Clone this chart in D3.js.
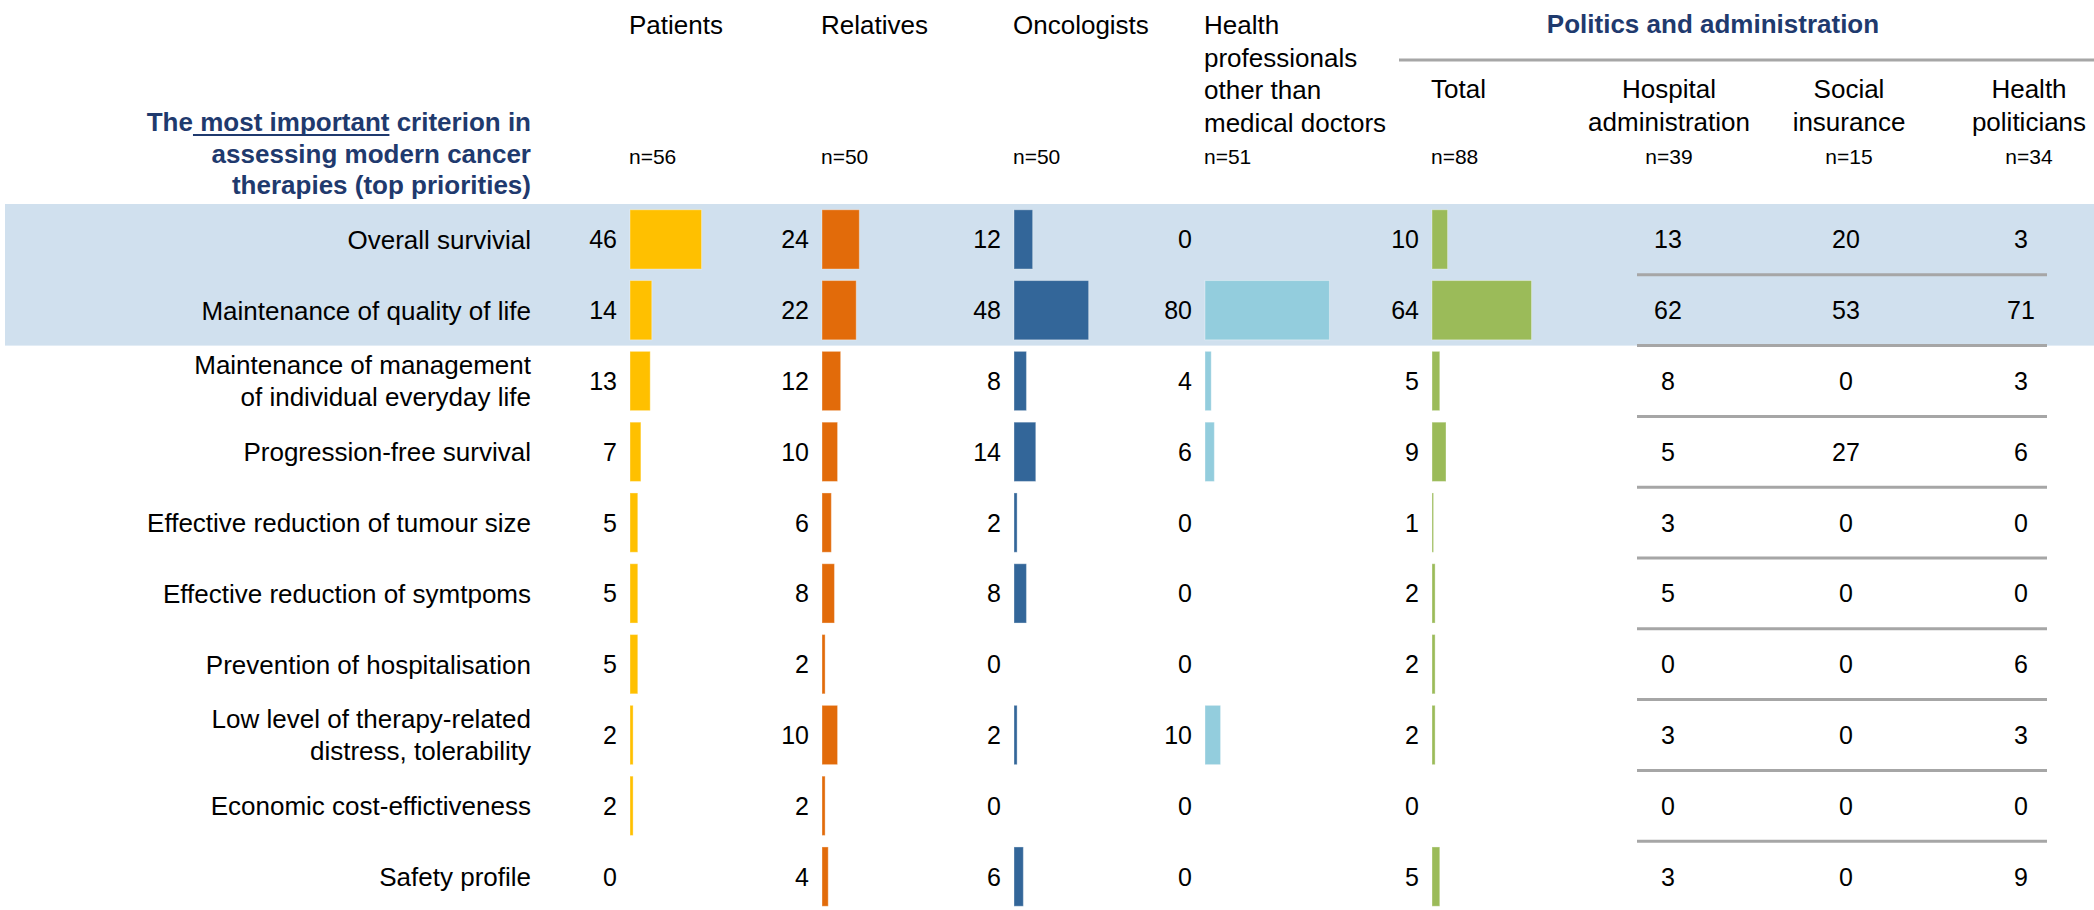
<!DOCTYPE html>
<html>
<head>
<meta charset="utf-8">
<script src="https://cdn.jsdelivr.net/npm/d3@7"></script>
<style>
  html, body { margin: 0; padding: 0; background: #fff; }
  svg { display: block; font-family: Arial, "Liberation Sans", sans-serif; }
</style>
</head>
<body>
<svg id="chart" width="2094" height="910"></svg>
<script>
// ---------- DATA ----------
const categories = [
  "Overall survivial",
  "Maintenance of quality of life",
  "Maintenance of management\nof individual everyday life",
  "Progression-free survival",
  "Effective reduction of tumour size",
  "Effective reduction of symtpoms",
  "Prevention of hospitalisation",
  "Low level of therapy-related\ndistress, tolerability",
  "Economic cost-effictiveness",
  "Safety profile"
];
const barGroups = ["Patients", "Relatives", "Oncologists", "Health\nprofessionals\nother than\nmedical doctors", "Total"];
const barSampleSizes = ["n=56", "n=50", "n=50", "n=51", "n=88"];
const patients            = [46, 14, 13, 7, 5, 5, 5, 2, 2, 0];
const relatives           = [24, 22, 12, 10, 6, 8, 2, 10, 2, 4];
const oncologists         = [12, 48, 8, 14, 2, 8, 0, 2, 0, 6];
const healthProfessionals = [0, 80, 4, 6, 0, 0, 0, 10, 0, 0];
const politicsTotal       = [10, 64, 5, 9, 1, 2, 2, 2, 0, 5];

const subGroups = ["Hospital\nadministration", "Social\ninsurance", "Health\npoliticians"];
const subSampleSizes = ["n=39", "n=15", "n=34"];
const hospitalAdministration = [13, 62, 8, 5, 3, 5, 0, 3, 0, 3];
const socialInsurance        = [20, 53, 0, 27, 0, 0, 0, 0, 0, 0];
const healthPoliticians      = [3, 71, 3, 6, 0, 0, 6, 3, 0, 9];

const barSeries = [patients, relatives, oncologists, healthProfessionals, politicsTotal];
const subSeries = [hospitalAdministration, socialInsurance, healthPoliticians];
const highlighted = ["Overall survivial", "Maintenance of quality of life"];

// ---------- STYLE / LAYOUT ----------
const barColors = ["#FFC000", "#E26B0A", "#336699", "#93CDDD", "#9BBB59"];
const navy = "#1F3A6E";
const gray = "#A6A6A6";
const bandColor = "#D0E0EE";
const colX = [630, 822, 1014, 1205, 1432];
const subX = [1668, 1846, 2021];
const subHeadX = [1669, 1849, 2029];
const labelRight = 531;

const svg = d3.select("#chart");

const y = d3.scaleBand()
  .domain(categories)
  .range([204, 912])
  .paddingInner(0.163)
  .paddingOuter(0.0815);
const step = y.step();
const rowTop = c => y(c) - y.paddingInner() * step / 2;

const x = d3.scaleLinear().domain([0, 80]).range([0, 124.4]);

// highlight band
const hl = highlighted.map(rowTop);
svg.append("rect")
  .attr("x", 5).attr("y", d3.min(hl))
  .attr("width", 2094 - 5).attr("height", step * highlighted.length)
  .attr("fill", bandColor);

// ---------- TITLE ----------
const titleG = svg.append("g").attr("fill", navy).attr("font-weight", "bold").attr("font-size", 26);
const t1 = titleG.append("text").attr("x", labelRight).attr("y", 131).attr("text-anchor", "end");
const tsA = t1.append("tspan").text("The");
const tsB = t1.append("tspan").text(" most important");
t1.append("tspan").text(" criterion in");
titleG.append("text").attr("x", labelRight).attr("y", 163).attr("text-anchor", "end").text("assessing modern cancer");
titleG.append("text").attr("x", labelRight).attr("y", 194).attr("text-anchor", "end").text("therapies (top priorities)");
const totalLen = t1.node().getComputedTextLength();
const aLen = tsA.node().getComputedTextLength();
const bLen = tsB.node().getComputedTextLength();
const startX = labelRight - totalLen;
svg.append("line")
  .attr("x1", startX + aLen).attr("x2", startX + aLen + bLen)
  .attr("y1", 135).attr("y2", 135)
  .attr("stroke", navy).attr("stroke-width", 2.2);

// ---------- COLUMN HEADERS ----------
const headG = svg.append("g").attr("fill", "#000");
barGroups.forEach((g, i) => {
  const lines = g.split("\n");
  const baseY = i === 4 ? 98 : 34;
  const t = headG.append("text").attr("font-size", 26);
  lines.forEach((ln, j) => t.append("tspan").attr("x", colX[i] - 1).attr("y", baseY + j * 32.5).text(ln));
  headG.append("text").attr("font-size", 21).attr("x", colX[i] - 1).attr("y", 164).text(barSampleSizes[i]);
});
subGroups.forEach((g, i) => {
  const lines = g.split("\n");
  const t = headG.append("text").attr("font-size", 26).attr("text-anchor", "middle");
  lines.forEach((ln, j) => t.append("tspan").attr("x", subHeadX[i]).attr("y", 98 + j * 32.5).text(ln));
  headG.append("text").attr("font-size", 21).attr("text-anchor", "middle")
    .attr("x", subHeadX[i]).attr("y", 164).text(subSampleSizes[i]);
});
svg.append("text")
  .attr("x", 1713).attr("y", 33).attr("text-anchor", "middle")
  .attr("font-size", 26).attr("font-weight", "bold").attr("fill", navy)
  .text("Politics and administration");
svg.append("line")
  .attr("x1", 1399).attr("x2", 2094).attr("y1", 60).attr("y2", 60)
  .attr("stroke", gray).attr("stroke-width", 3);

// ---------- ROW LABELS ----------
const labG = svg.append("g").attr("font-size", 26).attr("fill", "#000").attr("text-anchor", "end");
categories.forEach(c => {
  const lines = c.split("\n");
  const cy = y(c) + y.bandwidth() / 2;
  const t = labG.append("text");
  const off = (lines.length - 1) * 32 / 2;
  lines.forEach((ln, j) => t.append("tspan")
    .attr("x", labelRight).attr("y", cy - off + j * 32).attr("dy", "0.36em").text(ln));
});

// ---------- BARS + VALUES ----------
barSeries.forEach((series, i) => {
  const g = svg.append("g");
  g.selectAll("rect").data(categories.map((c, k) => ({ c, v: series[k] })).filter(d => d.v > 0))
    .join("rect")
    .attr("x", colX[i])
    .attr("y", d => y(d.c))
    .attr("width", d => x(d.v))
    .attr("height", y.bandwidth())
    .attr("fill", barColors[i])
    .attr("stroke", "rgba(255,255,255,0.35)").attr("stroke-width", 1);
  g.selectAll("text").data(categories.map((c, k) => ({ c, v: series[k] })))
    .join("text")
    .attr("x", colX[i] - 13)
    .attr("y", d => y(d.c) + y.bandwidth() / 2)
    .attr("dy", "0.36em")
    .attr("text-anchor", "end")
    .attr("font-size", 25)
    .text(d => d.v);
});

// ---------- SUB-COLUMNS (numbers only) ----------
subSeries.forEach((series, i) => {
  svg.append("g").selectAll("text").data(categories.map((c, k) => ({ c, v: series[k] })))
    .join("text")
    .attr("x", subX[i])
    .attr("y", d => y(d.c) + y.bandwidth() / 2)
    .attr("dy", "0.36em")
    .attr("text-anchor", "middle")
    .attr("font-size", 25)
    .text(d => d.v);
});
svg.append("g").selectAll("line").data(categories.slice(1))
  .join("line")
  .attr("x1", 1637).attr("x2", 2047)
  .attr("y1", d => rowTop(d)).attr("y2", d => rowTop(d))
  .attr("stroke", gray).attr("stroke-width", 3);
</script>
</body>
</html>
